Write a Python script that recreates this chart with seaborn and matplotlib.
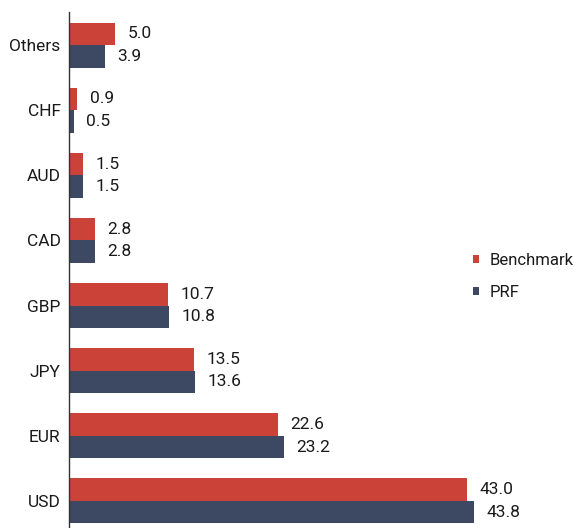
import matplotlib
matplotlib.use("Agg")
import matplotlib.pyplot as plt
import pandas as pd
import seaborn as sns

currencies = ["Others", "CHF", "AUD", "CAD", "GBP", "JPY", "EUR", "USD"]
benchmark = [5.0, 0.9, 1.5, 2.8, 10.7, 13.5, 22.6, 43.0]
prf = [3.9, 0.5, 1.5, 2.8, 10.8, 13.6, 23.2, 43.8]
series = ["Benchmark", "PRF"]
colors = ["#CA4238", "#3D4862"]

df = pd.DataFrame({
    "currency": currencies * 2,
    "weight": benchmark + prf,
    "series": ["Benchmark"] * len(currencies) + ["PRF"] * len(currencies),
})

sns.set_theme(style="white")
plt.rcParams["font.family"] = ["Roboto", "DejaVu Sans"]

fig = plt.figure(figsize=(5.8, 5.28), dpi=100)
ax = fig.add_axes([0.119, 0.0, 0.86, 0.977])

sns.barplot(data=df, x="weight", y="currency", hue="series", order=currencies,
            hue_order=series, palette=colors, width=0.7, orient="h",
            saturation=1, errorbar=None, linewidth=0, ax=ax)

for container in ax.containers:
    ax.bar_label(container, fmt="%.1f", padding=9, fontsize=12.5, color="#1a1a1a")

ax.set_xlim(0, 53.9)
ax.set_ylim(7.42, -0.51)
ax.set_xlabel("")
ax.set_ylabel("")
ax.set_xticks([])
ax.tick_params(axis="y", length=0, labelsize=12.5, labelcolor="#1a1a1a", pad=6)
for side in ["top", "right", "bottom"]:
    ax.spines[side].set_visible(False)
ax.spines["left"].set_color("#333333")
ax.spines["left"].set_linewidth(1.0)

leg = fig.legend(*ax.get_legend_handles_labels(), loc="center left",
                 bbox_to_anchor=(0.79, 0.476), frameon=False,
                 fontsize=12, handlelength=0.36, handleheight=0.36,
                 handletextpad=0.6, labelspacing=1.0)
ax.get_legend().remove()
for t in leg.get_texts():
    t.set_color("#1a1a1a")

fig.savefig("out.png", dpi=100)
